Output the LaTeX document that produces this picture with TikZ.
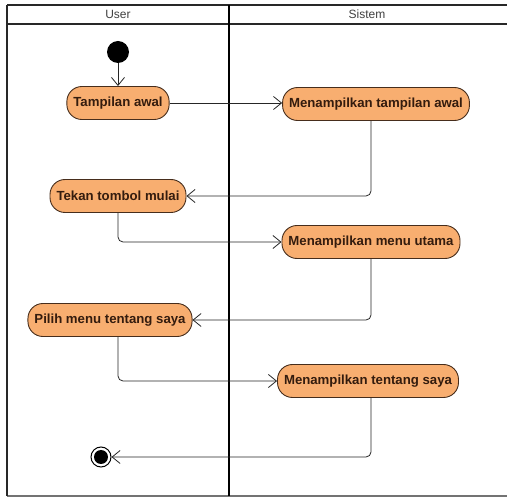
\documentclass[tikz,border=0pt]{standalone}
\usepackage{fontspec}
\setmainfont{Liberation Sans}
\usepackage{xcolor}
\usetikzlibrary{arrows.meta}
\definecolor{actfill}{RGB}{248, 174, 112}
\definecolor{actline}{RGB}{70, 45, 28}
\definecolor{acttext}{RGB}{52, 28, 14}
\definecolor{lane}{RGB}{40, 40, 40}

\begin{document}
\begin{tikzpicture}[x=1pt, y=-1pt,
  action/.style={draw=actline, fill=actfill, line width=0.9pt, rounded corners=15pt,
    minimum height=33pt, inner xsep=6.5pt, text=acttext,
    font=\fontsize{13.2}{15}\selectfont\bfseries},
  flow/.style={draw=black!85, line width=0.8pt, rounded corners=5pt,
    -{Straight Barb[length=8pt, width=13pt]}},
  startnode/.style={circle, fill=black, minimum size=22pt, inner sep=0pt},
  endnode/.style={circle, draw=black, line width=1pt, minimum size=20pt, inner sep=0pt,
    path picture={\fill (path picture bounding box.center) circle (7pt);}}]
\useasboundingbox (0,0) rectangle (507,497);

% Swimlanes
\draw[lane, line width=1.4pt] (7,5) -- (507,5);
\draw[lane, line width=1.4pt] (7,24) -- (507,24);
\draw[black!55, line width=1.4pt] (7,496) -- (507,496);
\draw[lane, line width=1.4pt] (7,5) -- (7,496);
\draw[black, line width=2pt] (229,5) -- (229,496);
\node[text=black!75, font=\fontsize{12}{14}\selectfont] (user) at (118,14.5) {User};
\node[text=black!75, font=\fontsize{12}{14}\selectfont] (sistem) at (367,14.5) {Sistem};

% Actions
\node[startnode] (start) at (118,52) {};
\node[action] (awal) at (118,103) {Tampilan awal};
\node[action] (tampil) at (376,104) {Menampilkan tampilan awal};
\node[action] (mulai) at (118,196) {Tekan tombol mulai};
\node[action] (menu) at (371,242) {Menampilkan menu utama};
\node[action] (pilih) at (110,320) {Pilih menu tentang saya};
\node[action] (tentang) at (368,381) {Menampilkan tentang saya};
\node[endnode] (end) at (101,457) {};

% Flow
\draw[flow] (start) -- (awal);
\draw[flow] (awal.east) -- (awal.east -| tampil.west);
\draw[flow] (tampil.south -| 371,0) |- (mulai.east);
\draw[flow] (mulai.south) |- (menu.west);
\draw[flow] (menu.south) |- (pilih.east);
\draw[flow] (pilih.south -| 118,0) |- (tentang.west);
\draw[flow] (tentang.south -| 371,0) |- (end.east);
\end{tikzpicture}
\end{document}
